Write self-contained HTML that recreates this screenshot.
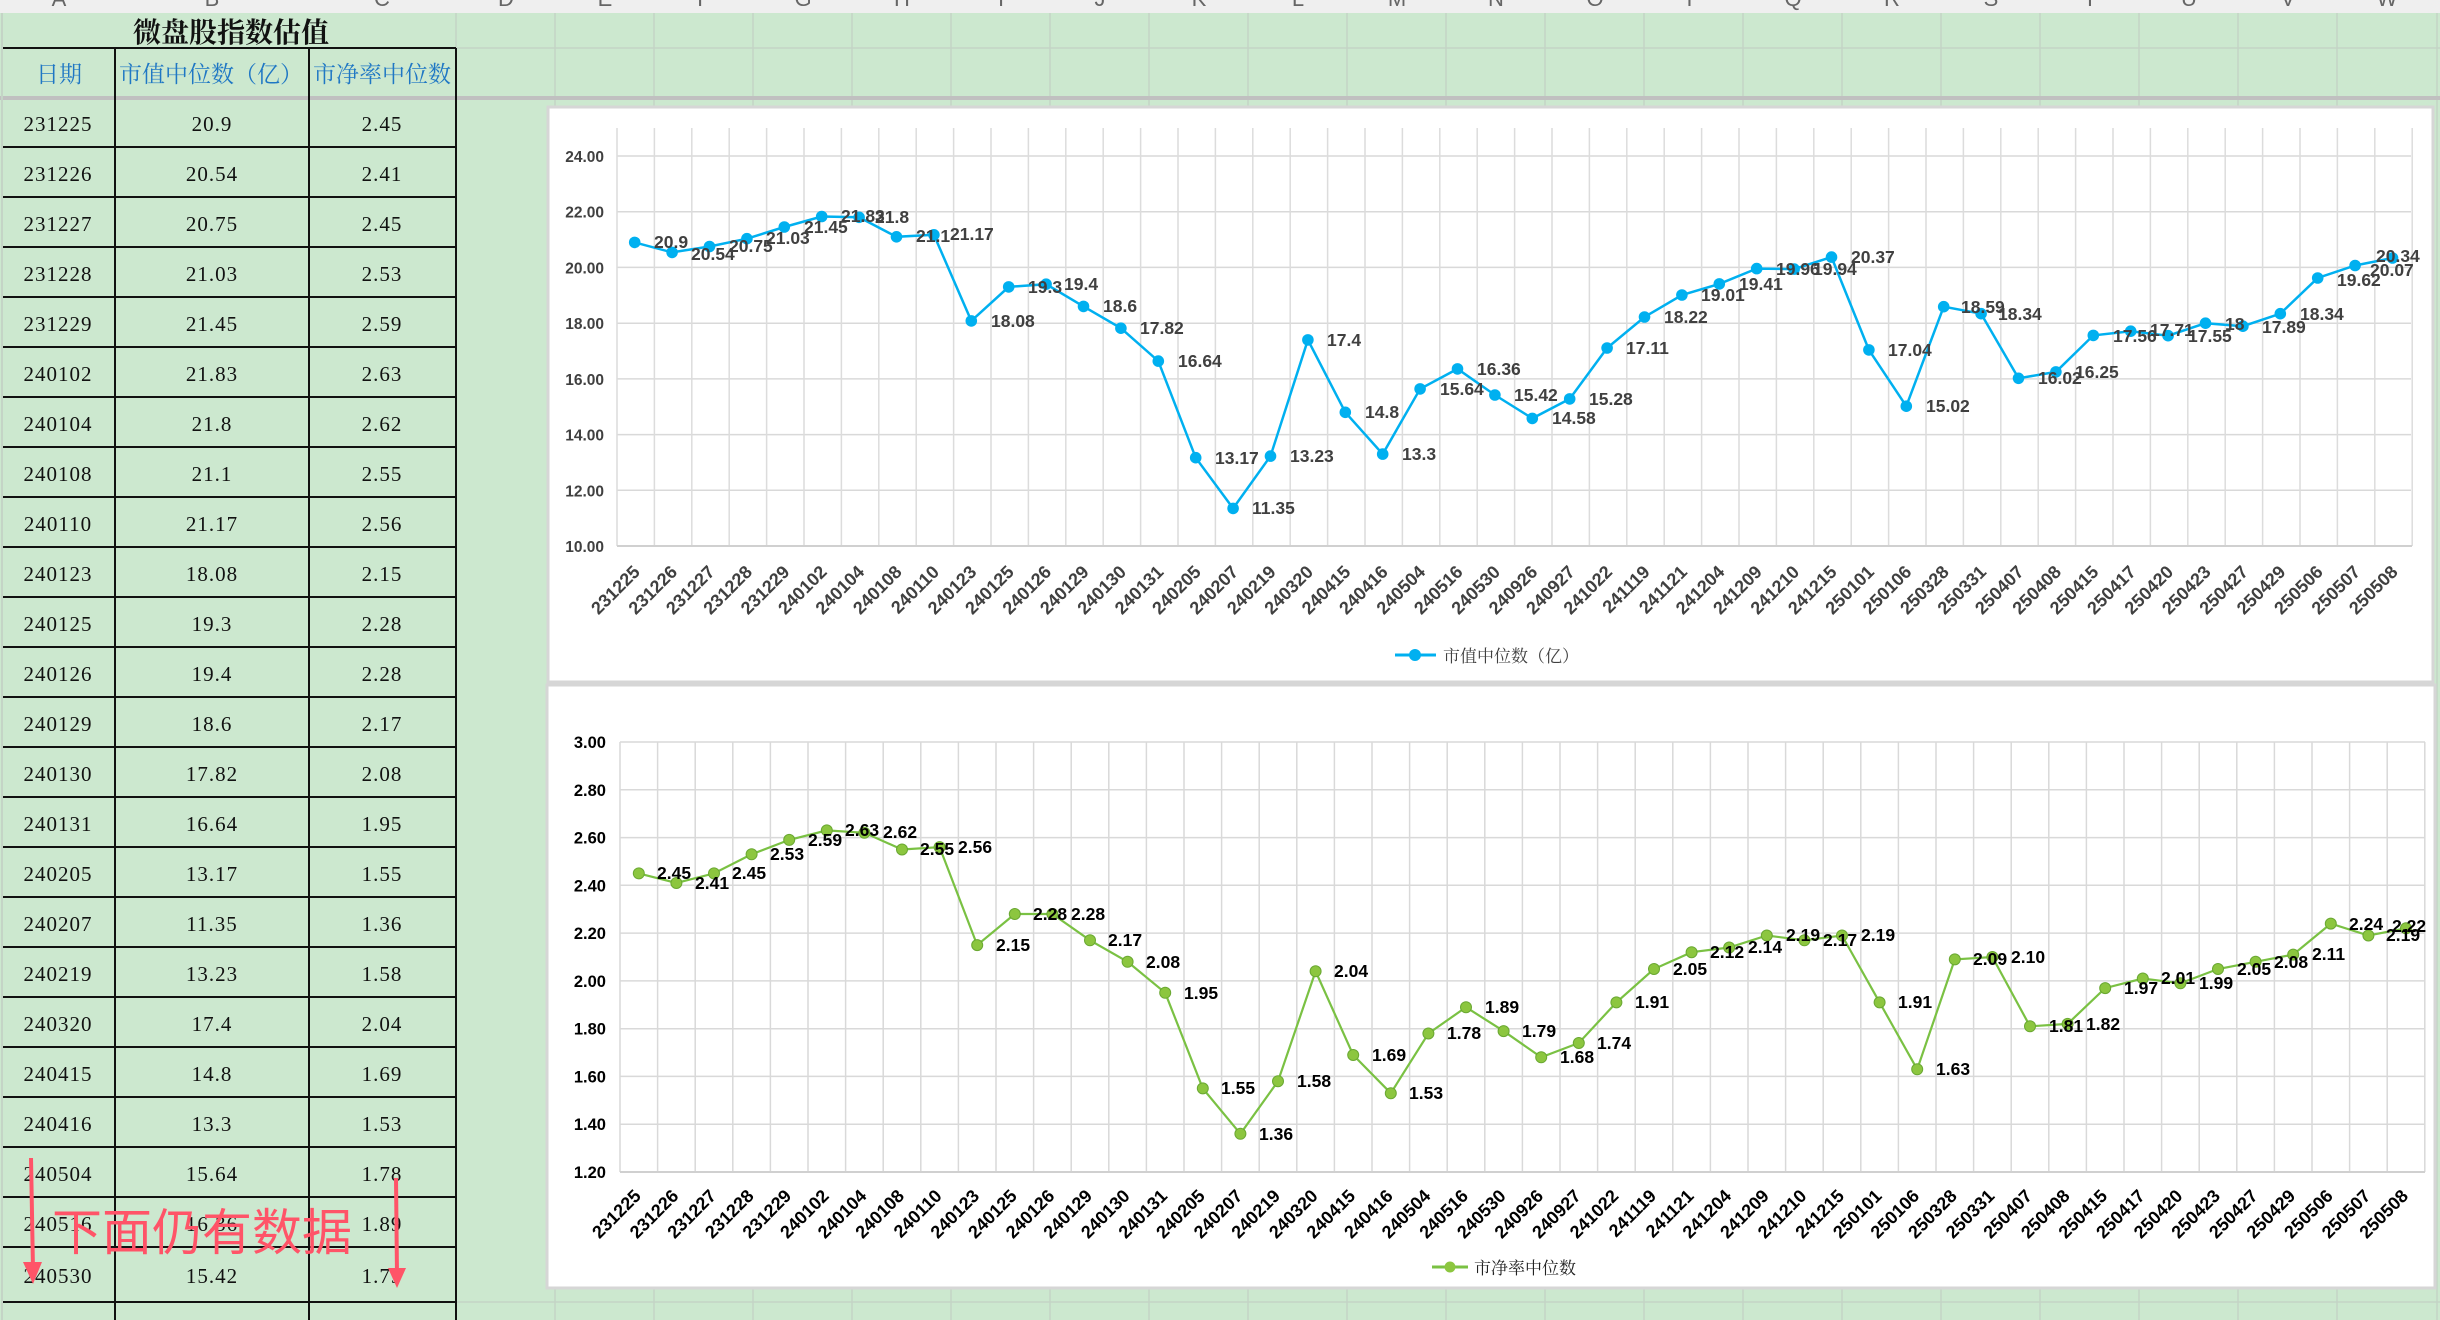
<!DOCTYPE html>
<html><head><meta charset="utf-8"><style>
html,body{margin:0;padding:0;width:2440px;height:1320px;overflow:hidden;background:#cce8cf}
svg{display:block}
.t{font-family:"Liberation Serif","Noto Serif CJK SC",serif;font-size:21px;fill:#111;text-anchor:middle;letter-spacing:1px}
.h{font-family:"Liberation Serif","Noto Serif CJK SC",serif;font-size:23px;fill:#1f77c4;text-anchor:middle}
.yl1{font-family:"Liberation Sans",sans-serif;font-weight:bold;font-size:15.5px;fill:#404040;text-anchor:end}
.yl2{font-family:"Liberation Sans",sans-serif;font-weight:bold;font-size:16.5px;fill:#000;text-anchor:end}
.d1{font-family:"Liberation Sans",sans-serif;font-weight:bold;font-size:17.5px;fill:#404040}
.d2{font-family:"Liberation Sans",sans-serif;font-weight:bold;font-size:17.5px;fill:#000}
.x1{font-family:"Liberation Sans",sans-serif;font-weight:bold;font-size:18px;fill:#404040;text-anchor:end}
.x2{font-family:"Liberation Sans",sans-serif;font-weight:bold;font-size:18px;fill:#000;text-anchor:end}
</style></head><body>
<svg width="2440" height="1320" viewBox="0 0 2440 1320" xmlns="http://www.w3.org/2000/svg">
<rect width="2440" height="1320" fill="#cce8cf"/>
<rect width="2440" height="13" fill="#efefef"/>
<g font-family="Liberation Sans,sans-serif" font-size="22" fill="#666" text-anchor="middle">
<text x="59" y="6">A</text><text x="212" y="6">B</text><text x="382" y="6">C</text>
<text x="506" y="6">D</text><text x="605" y="6">E</text><text x="704" y="6">F</text><text x="803" y="6">G</text><text x="902" y="6">H</text><text x="1001" y="6">I</text><text x="1100" y="6">J</text><text x="1199" y="6">K</text><text x="1298" y="6">L</text><text x="1397" y="6">M</text><text x="1496" y="6">N</text><text x="1595" y="6">O</text><text x="1694" y="6">P</text><text x="1793" y="6">Q</text><text x="1892" y="6">R</text><text x="1991" y="6">S</text><text x="2090" y="6">T</text><text x="2189" y="6">U</text><text x="2288" y="6">V</text><text x="2387" y="6">W</text>
</g>
<g stroke="#c4d4c6" stroke-width="1.5">
<line x1="456" y1="13" x2="456" y2="1320"/><line x1="555" y1="13" x2="555" y2="1320"/><line x1="654" y1="13" x2="654" y2="1320"/><line x1="753" y1="13" x2="753" y2="1320"/><line x1="852" y1="13" x2="852" y2="1320"/><line x1="951" y1="13" x2="951" y2="1320"/><line x1="1050" y1="13" x2="1050" y2="1320"/><line x1="1149" y1="13" x2="1149" y2="1320"/><line x1="1248" y1="13" x2="1248" y2="1320"/><line x1="1347" y1="13" x2="1347" y2="1320"/><line x1="1446" y1="13" x2="1446" y2="1320"/><line x1="1545" y1="13" x2="1545" y2="1320"/><line x1="1644" y1="13" x2="1644" y2="1320"/><line x1="1743" y1="13" x2="1743" y2="1320"/><line x1="1842" y1="13" x2="1842" y2="1320"/><line x1="1941" y1="13" x2="1941" y2="1320"/><line x1="2040" y1="13" x2="2040" y2="1320"/><line x1="2139" y1="13" x2="2139" y2="1320"/><line x1="2238" y1="13" x2="2238" y2="1320"/><line x1="2337" y1="13" x2="2337" y2="1320"/><line x1="2437" y1="13" x2="2437" y2="1320"/>
<line x1="456" y1="48" x2="2440" y2="48"/>
<line x1="456" y1="1302" x2="2440" y2="1302"/>
</g>
<line x1="0" y1="98" x2="2440" y2="98" stroke="#c0c0c0" stroke-width="4"/>
<text x="231" y="42" font-family="Liberation Serif,'Noto Serif CJK SC',serif" font-size="28" font-weight="bold" text-anchor="middle" fill="#111">微盘股指数估值</text>
<text class="h" x="59" y="82">日期</text>
<text class="h" x="211" y="82">市值中位数（亿）</text>
<text class="h" x="382" y="82">市净率中位数</text>
<g stroke="#111" stroke-width="2">
<line x1="2" y1="48" x2="456" y2="48"/>
<line x1="115" y1="48" x2="115" y2="1320"/><line x1="309" y1="48" x2="309" y2="1320"/><line x1="456" y1="48" x2="456" y2="1320"/>
<line x1="2" y1="147" x2="456" y2="147"/><line x1="2" y1="197" x2="456" y2="197"/><line x1="2" y1="247" x2="456" y2="247"/><line x1="2" y1="297" x2="456" y2="297"/><line x1="2" y1="347" x2="456" y2="347"/><line x1="2" y1="397" x2="456" y2="397"/><line x1="2" y1="447" x2="456" y2="447"/><line x1="2" y1="497" x2="456" y2="497"/><line x1="2" y1="547" x2="456" y2="547"/><line x1="2" y1="597" x2="456" y2="597"/><line x1="2" y1="647" x2="456" y2="647"/><line x1="2" y1="697" x2="456" y2="697"/><line x1="2" y1="747" x2="456" y2="747"/><line x1="2" y1="797" x2="456" y2="797"/><line x1="2" y1="847" x2="456" y2="847"/><line x1="2" y1="897" x2="456" y2="897"/><line x1="2" y1="947" x2="456" y2="947"/><line x1="2" y1="997" x2="456" y2="997"/><line x1="2" y1="1047" x2="456" y2="1047"/><line x1="2" y1="1097" x2="456" y2="1097"/><line x1="2" y1="1147" x2="456" y2="1147"/><line x1="2" y1="1197" x2="456" y2="1197"/><line x1="2" y1="1247" x2="456" y2="1247"/><line x1="2" y1="1302" x2="456" y2="1302"/>
</g>
<line x1="2" y1="13" x2="2" y2="1320" stroke="#c4d4c6" stroke-width="2"/>
<g class="t">
<text class="t" x="58" y="131">231225</text><text class="t" x="212" y="131">20.9</text><text class="t" x="382" y="131">2.45</text>
<text class="t" x="58" y="181">231226</text><text class="t" x="212" y="181">20.54</text><text class="t" x="382" y="181">2.41</text>
<text class="t" x="58" y="231">231227</text><text class="t" x="212" y="231">20.75</text><text class="t" x="382" y="231">2.45</text>
<text class="t" x="58" y="281">231228</text><text class="t" x="212" y="281">21.03</text><text class="t" x="382" y="281">2.53</text>
<text class="t" x="58" y="331">231229</text><text class="t" x="212" y="331">21.45</text><text class="t" x="382" y="331">2.59</text>
<text class="t" x="58" y="381">240102</text><text class="t" x="212" y="381">21.83</text><text class="t" x="382" y="381">2.63</text>
<text class="t" x="58" y="431">240104</text><text class="t" x="212" y="431">21.8</text><text class="t" x="382" y="431">2.62</text>
<text class="t" x="58" y="481">240108</text><text class="t" x="212" y="481">21.1</text><text class="t" x="382" y="481">2.55</text>
<text class="t" x="58" y="531">240110</text><text class="t" x="212" y="531">21.17</text><text class="t" x="382" y="531">2.56</text>
<text class="t" x="58" y="581">240123</text><text class="t" x="212" y="581">18.08</text><text class="t" x="382" y="581">2.15</text>
<text class="t" x="58" y="631">240125</text><text class="t" x="212" y="631">19.3</text><text class="t" x="382" y="631">2.28</text>
<text class="t" x="58" y="681">240126</text><text class="t" x="212" y="681">19.4</text><text class="t" x="382" y="681">2.28</text>
<text class="t" x="58" y="731">240129</text><text class="t" x="212" y="731">18.6</text><text class="t" x="382" y="731">2.17</text>
<text class="t" x="58" y="781">240130</text><text class="t" x="212" y="781">17.82</text><text class="t" x="382" y="781">2.08</text>
<text class="t" x="58" y="831">240131</text><text class="t" x="212" y="831">16.64</text><text class="t" x="382" y="831">1.95</text>
<text class="t" x="58" y="881">240205</text><text class="t" x="212" y="881">13.17</text><text class="t" x="382" y="881">1.55</text>
<text class="t" x="58" y="931">240207</text><text class="t" x="212" y="931">11.35</text><text class="t" x="382" y="931">1.36</text>
<text class="t" x="58" y="981">240219</text><text class="t" x="212" y="981">13.23</text><text class="t" x="382" y="981">1.58</text>
<text class="t" x="58" y="1031">240320</text><text class="t" x="212" y="1031">17.4</text><text class="t" x="382" y="1031">2.04</text>
<text class="t" x="58" y="1081">240415</text><text class="t" x="212" y="1081">14.8</text><text class="t" x="382" y="1081">1.69</text>
<text class="t" x="58" y="1131">240416</text><text class="t" x="212" y="1131">13.3</text><text class="t" x="382" y="1131">1.53</text>
<text class="t" x="58" y="1181">240504</text><text class="t" x="212" y="1181">15.64</text><text class="t" x="382" y="1181">1.78</text>
<text class="t" x="58" y="1231">240516</text><text class="t" x="212" y="1231">16.36</text><text class="t" x="382" y="1231">1.89</text>
<text class="t" x="58" y="1283">240530</text><text class="t" x="212" y="1283">15.42</text><text class="t" x="382" y="1283">1.79</text>
</g>
<text x="52" y="1250" font-family="'Noto Sans CJK SC','WenQuanYi Zen Hei',sans-serif" font-size="50" fill="#ff5468">下面仍有数据</text>
<g fill="#ff5468" stroke="#ff5468">
<line x1="31" y1="1158" x2="33" y2="1270" stroke-width="4"/><polygon points="23,1262 42,1262 33,1284" stroke="none"/>
<line x1="396" y1="1178" x2="397" y2="1275" stroke-width="4"/><polygon points="388,1268 406,1268 397,1288" stroke="none"/>
</g>

<rect x="548" y="107" width="1885" height="575" fill="#fff" stroke="#d6d6d6" stroke-width="3"/>
<g stroke="#d9d9d9" stroke-width="1.5">
<line x1="617" y1="156" x2="2411" y2="156"/><line x1="617" y1="211.7" x2="2411" y2="211.7"/><line x1="617" y1="267.4" x2="2411" y2="267.4"/><line x1="617" y1="323.2" x2="2411" y2="323.2"/><line x1="617" y1="378.9" x2="2411" y2="378.9"/><line x1="617" y1="434.6" x2="2411" y2="434.6"/><line x1="617" y1="490.3" x2="2411" y2="490.3"/>
</g>
<g stroke="#dcdcdc" stroke-width="1.5">
<line x1="617" y1="128" x2="617" y2="546"/><line x1="654.4" y1="128" x2="654.4" y2="546"/><line x1="691.8" y1="128" x2="691.8" y2="546"/><line x1="729.2" y1="128" x2="729.2" y2="546"/><line x1="766.6" y1="128" x2="766.6" y2="546"/><line x1="804" y1="128" x2="804" y2="546"/><line x1="841.4" y1="128" x2="841.4" y2="546"/><line x1="878.8" y1="128" x2="878.8" y2="546"/><line x1="916.2" y1="128" x2="916.2" y2="546"/><line x1="953.6" y1="128" x2="953.6" y2="546"/><line x1="991" y1="128" x2="991" y2="546"/><line x1="1028.4" y1="128" x2="1028.4" y2="546"/><line x1="1065.8" y1="128" x2="1065.8" y2="546"/><line x1="1103.2" y1="128" x2="1103.2" y2="546"/><line x1="1140.6" y1="128" x2="1140.6" y2="546"/><line x1="1178" y1="128" x2="1178" y2="546"/><line x1="1215.4" y1="128" x2="1215.4" y2="546"/><line x1="1252.8" y1="128" x2="1252.8" y2="546"/><line x1="1290.2" y1="128" x2="1290.2" y2="546"/><line x1="1327.6" y1="128" x2="1327.6" y2="546"/><line x1="1365" y1="128" x2="1365" y2="546"/><line x1="1402.4" y1="128" x2="1402.4" y2="546"/><line x1="1439.8" y1="128" x2="1439.8" y2="546"/><line x1="1477.2" y1="128" x2="1477.2" y2="546"/><line x1="1514.6" y1="128" x2="1514.6" y2="546"/><line x1="1552" y1="128" x2="1552" y2="546"/><line x1="1589.4" y1="128" x2="1589.4" y2="546"/><line x1="1626.8" y1="128" x2="1626.8" y2="546"/><line x1="1664.2" y1="128" x2="1664.2" y2="546"/><line x1="1701.6" y1="128" x2="1701.6" y2="546"/><line x1="1739" y1="128" x2="1739" y2="546"/><line x1="1776.4" y1="128" x2="1776.4" y2="546"/><line x1="1813.8" y1="128" x2="1813.8" y2="546"/><line x1="1851.2" y1="128" x2="1851.2" y2="546"/><line x1="1888.6" y1="128" x2="1888.6" y2="546"/><line x1="1926" y1="128" x2="1926" y2="546"/><line x1="1963.4" y1="128" x2="1963.4" y2="546"/><line x1="2000.8" y1="128" x2="2000.8" y2="546"/><line x1="2038.2" y1="128" x2="2038.2" y2="546"/><line x1="2075.6" y1="128" x2="2075.6" y2="546"/><line x1="2113" y1="128" x2="2113" y2="546"/><line x1="2150.4" y1="128" x2="2150.4" y2="546"/><line x1="2187.8" y1="128" x2="2187.8" y2="546"/><line x1="2225.2" y1="128" x2="2225.2" y2="546"/><line x1="2262.6" y1="128" x2="2262.6" y2="546"/><line x1="2300" y1="128" x2="2300" y2="546"/><line x1="2337.4" y1="128" x2="2337.4" y2="546"/><line x1="2374.8" y1="128" x2="2374.8" y2="546"/><line x1="2412.2" y1="128" x2="2412.2" y2="546"/>
</g>
<line x1="617" y1="546" x2="2412" y2="546" stroke="#d0d0d0" stroke-width="2"/>
<g>
<text class="yl1" x="604" y="162">24.00</text><text class="yl1" x="604" y="217.7">22.00</text><text class="yl1" x="604" y="273.4">20.00</text><text class="yl1" x="604" y="329.2">18.00</text><text class="yl1" x="604" y="384.9">16.00</text><text class="yl1" x="604" y="440.6">14.00</text><text class="yl1" x="604" y="496.3">12.00</text><text class="yl1" x="604" y="552">10.00</text>
</g>
<polyline fill="none" stroke="#00b0f0" stroke-width="2.5" points="634.7,242.4 672.1,252.4 709.5,246.5 746.9,238.7 784.3,227 821.7,216.5 859.1,217.3 896.5,236.8 933.9,234.8 971.3,320.9 1008.7,286.9 1046.1,284.2 1083.5,306.4 1120.9,328.2 1158.3,361.1 1195.7,457.7 1233.1,508.4 1270.5,456.1 1307.9,339.9 1345.3,412.3 1382.7,454.1 1420.1,388.9 1457.5,368.9 1494.9,395 1532.3,418.4 1569.7,398.9 1607.1,348 1644.5,317 1681.9,295 1719.3,283.9 1756.7,268.6 1794.1,269.1 1831.5,257.1 1868.9,349.9 1906.3,406.2 1943.7,306.7 1981.1,313.7 2018.5,378.3 2055.9,371.9 2093.3,335.4 2130.7,331.2 2168.1,335.7 2205.5,323.2 2242.9,326.2 2280.3,313.7 2317.7,278 2355.1,265.5 2392.5,258"/>
<g fill="#00b0f0">
<circle cx="634.7" cy="242.4" r="5.8"/><circle cx="672.1" cy="252.4" r="5.8"/><circle cx="709.5" cy="246.5" r="5.8"/><circle cx="746.9" cy="238.7" r="5.8"/><circle cx="784.3" cy="227" r="5.8"/><circle cx="821.7" cy="216.5" r="5.8"/><circle cx="859.1" cy="217.3" r="5.8"/><circle cx="896.5" cy="236.8" r="5.8"/><circle cx="933.9" cy="234.8" r="5.8"/><circle cx="971.3" cy="320.9" r="5.8"/><circle cx="1008.7" cy="286.9" r="5.8"/><circle cx="1046.1" cy="284.2" r="5.8"/><circle cx="1083.5" cy="306.4" r="5.8"/><circle cx="1120.9" cy="328.2" r="5.8"/><circle cx="1158.3" cy="361.1" r="5.8"/><circle cx="1195.7" cy="457.7" r="5.8"/><circle cx="1233.1" cy="508.4" r="5.8"/><circle cx="1270.5" cy="456.1" r="5.8"/><circle cx="1307.9" cy="339.9" r="5.8"/><circle cx="1345.3" cy="412.3" r="5.8"/><circle cx="1382.7" cy="454.1" r="5.8"/><circle cx="1420.1" cy="388.9" r="5.8"/><circle cx="1457.5" cy="368.9" r="5.8"/><circle cx="1494.9" cy="395" r="5.8"/><circle cx="1532.3" cy="418.4" r="5.8"/><circle cx="1569.7" cy="398.9" r="5.8"/><circle cx="1607.1" cy="348" r="5.8"/><circle cx="1644.5" cy="317" r="5.8"/><circle cx="1681.9" cy="295" r="5.8"/><circle cx="1719.3" cy="283.9" r="5.8"/><circle cx="1756.7" cy="268.6" r="5.8"/><circle cx="1794.1" cy="269.1" r="5.8"/><circle cx="1831.5" cy="257.1" r="5.8"/><circle cx="1868.9" cy="349.9" r="5.8"/><circle cx="1906.3" cy="406.2" r="5.8"/><circle cx="1943.7" cy="306.7" r="5.8"/><circle cx="1981.1" cy="313.7" r="5.8"/><circle cx="2018.5" cy="378.3" r="5.8"/><circle cx="2055.9" cy="371.9" r="5.8"/><circle cx="2093.3" cy="335.4" r="5.8"/><circle cx="2130.7" cy="331.2" r="5.8"/><circle cx="2168.1" cy="335.7" r="5.8"/><circle cx="2205.5" cy="323.2" r="5.8"/><circle cx="2242.9" cy="326.2" r="5.8"/><circle cx="2280.3" cy="313.7" r="5.8"/><circle cx="2317.7" cy="278" r="5.8"/><circle cx="2355.1" cy="265.5" r="5.8"/><circle cx="2392.5" cy="258" r="5.8"/>
</g>
<g class="d1">
<text class="d1" x="654" y="248">20.9</text><text class="d1" x="691" y="260">20.54</text><text class="d1" x="729" y="252">20.75</text><text class="d1" x="766" y="244">21.03</text><text class="d1" x="804" y="233">21.45</text><text class="d1" x="841" y="222">21.83</text><text class="d1" x="875" y="223">21.8</text><text class="d1" x="916" y="242">21.1</text><text class="d1" x="950" y="240">21.17</text><text class="d1" x="991" y="327">18.08</text><text class="d1" x="1028" y="293">19.3</text><text class="d1" x="1064" y="290">19.4</text><text class="d1" x="1103" y="312">18.6</text><text class="d1" x="1140" y="334">17.82</text><text class="d1" x="1178" y="367">16.64</text><text class="d1" x="1215" y="464">13.17</text><text class="d1" x="1252" y="514">11.35</text><text class="d1" x="1290" y="462">13.23</text><text class="d1" x="1327" y="346">17.4</text><text class="d1" x="1365" y="418">14.8</text><text class="d1" x="1402" y="460">13.3</text><text class="d1" x="1440" y="395">15.64</text><text class="d1" x="1477" y="375">16.36</text><text class="d1" x="1514" y="401">15.42</text><text class="d1" x="1552" y="424">14.58</text><text class="d1" x="1589" y="405">15.28</text><text class="d1" x="1626" y="354">17.11</text><text class="d1" x="1664" y="323">18.22</text><text class="d1" x="1701" y="301">19.01</text><text class="d1" x="1739" y="290">19.41</text><text class="d1" x="1776" y="275">19.96</text><text class="d1" x="1813" y="275">19.94</text><text class="d1" x="1851" y="263">20.37</text><text class="d1" x="1888" y="356">17.04</text><text class="d1" x="1926" y="412">15.02</text><text class="d1" x="1961" y="313">18.59</text><text class="d1" x="1998" y="320">18.34</text><text class="d1" x="2038" y="384">16.02</text><text class="d1" x="2075" y="378">16.25</text><text class="d1" x="2113" y="342">17.56</text><text class="d1" x="2150" y="336">17.71</text><text class="d1" x="2188" y="342">17.55</text><text class="d1" x="2225" y="330">18</text><text class="d1" x="2262" y="333">17.89</text><text class="d1" x="2300" y="320">18.34</text><text class="d1" x="2337" y="286">19.62</text><text class="d1" x="2370" y="276">20.07</text><text class="d1" x="2376" y="262">20.34</text>
</g>
<g>
<text class="x1" transform="translate(641,573) rotate(-45)">231225</text><text class="x1" transform="translate(678.4,573) rotate(-45)">231226</text><text class="x1" transform="translate(715.8,573) rotate(-45)">231227</text><text class="x1" transform="translate(753.2,573) rotate(-45)">231228</text><text class="x1" transform="translate(790.6,573) rotate(-45)">231229</text><text class="x1" transform="translate(828,573) rotate(-45)">240102</text><text class="x1" transform="translate(865.4,573) rotate(-45)">240104</text><text class="x1" transform="translate(902.8,573) rotate(-45)">240108</text><text class="x1" transform="translate(940.2,573) rotate(-45)">240110</text><text class="x1" transform="translate(977.6,573) rotate(-45)">240123</text><text class="x1" transform="translate(1015,573) rotate(-45)">240125</text><text class="x1" transform="translate(1052.4,573) rotate(-45)">240126</text><text class="x1" transform="translate(1089.8,573) rotate(-45)">240129</text><text class="x1" transform="translate(1127.2,573) rotate(-45)">240130</text><text class="x1" transform="translate(1164.6,573) rotate(-45)">240131</text><text class="x1" transform="translate(1202,573) rotate(-45)">240205</text><text class="x1" transform="translate(1239.4,573) rotate(-45)">240207</text><text class="x1" transform="translate(1276.8,573) rotate(-45)">240219</text><text class="x1" transform="translate(1314.2,573) rotate(-45)">240320</text><text class="x1" transform="translate(1351.6,573) rotate(-45)">240415</text><text class="x1" transform="translate(1389,573) rotate(-45)">240416</text><text class="x1" transform="translate(1426.4,573) rotate(-45)">240504</text><text class="x1" transform="translate(1463.8,573) rotate(-45)">240516</text><text class="x1" transform="translate(1501.2,573) rotate(-45)">240530</text><text class="x1" transform="translate(1538.6,573) rotate(-45)">240926</text><text class="x1" transform="translate(1576,573) rotate(-45)">240927</text><text class="x1" transform="translate(1613.4,573) rotate(-45)">241022</text><text class="x1" transform="translate(1650.8,573) rotate(-45)">241119</text><text class="x1" transform="translate(1688.2,573) rotate(-45)">241121</text><text class="x1" transform="translate(1725.6,573) rotate(-45)">241204</text><text class="x1" transform="translate(1763,573) rotate(-45)">241209</text><text class="x1" transform="translate(1800.4,573) rotate(-45)">241210</text><text class="x1" transform="translate(1837.8,573) rotate(-45)">241215</text><text class="x1" transform="translate(1875.2,573) rotate(-45)">250101</text><text class="x1" transform="translate(1912.6,573) rotate(-45)">250106</text><text class="x1" transform="translate(1950,573) rotate(-45)">250328</text><text class="x1" transform="translate(1987.4,573) rotate(-45)">250331</text><text class="x1" transform="translate(2024.8,573) rotate(-45)">250407</text><text class="x1" transform="translate(2062.2,573) rotate(-45)">250408</text><text class="x1" transform="translate(2099.6,573) rotate(-45)">250415</text><text class="x1" transform="translate(2137,573) rotate(-45)">250417</text><text class="x1" transform="translate(2174.4,573) rotate(-45)">250420</text><text class="x1" transform="translate(2211.8,573) rotate(-45)">250423</text><text class="x1" transform="translate(2249.2,573) rotate(-45)">250427</text><text class="x1" transform="translate(2286.6,573) rotate(-45)">250429</text><text class="x1" transform="translate(2324,573) rotate(-45)">250506</text><text class="x1" transform="translate(2361.4,573) rotate(-45)">250507</text><text class="x1" transform="translate(2398.8,573) rotate(-45)">250508</text>
</g>
<line x1="1395" y1="655" x2="1436" y2="655" stroke="#00b0f0" stroke-width="3"/><circle cx="1415" cy="655" r="6" fill="#00b0f0"/>
<text x="1443" y="662" font-family="'Liberation Serif','Noto Serif CJK SC',serif" font-size="17" fill="#404040">市值中位数（亿）</text>

<rect x="547" y="685" width="1888" height="603" fill="#fff" stroke="#d6d6d6" stroke-width="3"/>
<g stroke="#d9d9d9" stroke-width="1.5">
<line x1="620" y1="742" x2="2425" y2="742"/><line x1="620" y1="789.8" x2="2425" y2="789.8"/><line x1="620" y1="837.6" x2="2425" y2="837.6"/><line x1="620" y1="885.3" x2="2425" y2="885.3"/><line x1="620" y1="933.1" x2="2425" y2="933.1"/><line x1="620" y1="980.9" x2="2425" y2="980.9"/><line x1="620" y1="1028.7" x2="2425" y2="1028.7"/><line x1="620" y1="1076.4" x2="2425" y2="1076.4"/><line x1="620" y1="1124.2" x2="2425" y2="1124.2"/>
<line x1="620" y1="742" x2="620" y2="1172"/><line x1="657.6" y1="742" x2="657.6" y2="1172"/><line x1="695.2" y1="742" x2="695.2" y2="1172"/><line x1="732.8" y1="742" x2="732.8" y2="1172"/><line x1="770.4" y1="742" x2="770.4" y2="1172"/><line x1="808" y1="742" x2="808" y2="1172"/><line x1="845.6" y1="742" x2="845.6" y2="1172"/><line x1="883.2" y1="742" x2="883.2" y2="1172"/><line x1="920.8" y1="742" x2="920.8" y2="1172"/><line x1="958.4" y1="742" x2="958.4" y2="1172"/><line x1="996" y1="742" x2="996" y2="1172"/><line x1="1033.6" y1="742" x2="1033.6" y2="1172"/><line x1="1071.2" y1="742" x2="1071.2" y2="1172"/><line x1="1108.8" y1="742" x2="1108.8" y2="1172"/><line x1="1146.4" y1="742" x2="1146.4" y2="1172"/><line x1="1184" y1="742" x2="1184" y2="1172"/><line x1="1221.6" y1="742" x2="1221.6" y2="1172"/><line x1="1259.2" y1="742" x2="1259.2" y2="1172"/><line x1="1296.8" y1="742" x2="1296.8" y2="1172"/><line x1="1334.4" y1="742" x2="1334.4" y2="1172"/><line x1="1372" y1="742" x2="1372" y2="1172"/><line x1="1409.6" y1="742" x2="1409.6" y2="1172"/><line x1="1447.2" y1="742" x2="1447.2" y2="1172"/><line x1="1484.8" y1="742" x2="1484.8" y2="1172"/><line x1="1522.4" y1="742" x2="1522.4" y2="1172"/><line x1="1560" y1="742" x2="1560" y2="1172"/><line x1="1597.6" y1="742" x2="1597.6" y2="1172"/><line x1="1635.2" y1="742" x2="1635.2" y2="1172"/><line x1="1672.8" y1="742" x2="1672.8" y2="1172"/><line x1="1710.4" y1="742" x2="1710.4" y2="1172"/><line x1="1748" y1="742" x2="1748" y2="1172"/><line x1="1785.6" y1="742" x2="1785.6" y2="1172"/><line x1="1823.2" y1="742" x2="1823.2" y2="1172"/><line x1="1860.8" y1="742" x2="1860.8" y2="1172"/><line x1="1898.4" y1="742" x2="1898.4" y2="1172"/><line x1="1936" y1="742" x2="1936" y2="1172"/><line x1="1973.6" y1="742" x2="1973.6" y2="1172"/><line x1="2011.2" y1="742" x2="2011.2" y2="1172"/><line x1="2048.8" y1="742" x2="2048.8" y2="1172"/><line x1="2086.4" y1="742" x2="2086.4" y2="1172"/><line x1="2124" y1="742" x2="2124" y2="1172"/><line x1="2161.6" y1="742" x2="2161.6" y2="1172"/><line x1="2199.2" y1="742" x2="2199.2" y2="1172"/><line x1="2236.8" y1="742" x2="2236.8" y2="1172"/><line x1="2274.4" y1="742" x2="2274.4" y2="1172"/><line x1="2312" y1="742" x2="2312" y2="1172"/><line x1="2349.6" y1="742" x2="2349.6" y2="1172"/><line x1="2387.2" y1="742" x2="2387.2" y2="1172"/><line x1="2424.8" y1="742" x2="2424.8" y2="1172"/>
</g>
<line x1="620" y1="1172" x2="2425" y2="1172" stroke="#d0d0d0" stroke-width="2"/>
<g>
<text class="yl2" x="606" y="748">3.00</text><text class="yl2" x="606" y="795.8">2.80</text><text class="yl2" x="606" y="843.6">2.60</text><text class="yl2" x="606" y="891.3">2.40</text><text class="yl2" x="606" y="939.1">2.20</text><text class="yl2" x="606" y="986.9">2.00</text><text class="yl2" x="606" y="1034.7">1.80</text><text class="yl2" x="606" y="1082.4">1.60</text><text class="yl2" x="606" y="1130.2">1.40</text><text class="yl2" x="606" y="1178">1.20</text>
</g>
<polyline fill="none" stroke="#7ac143" stroke-width="2.2" points="638.8,873.4 676.4,883 714,873.4 751.6,854.3 789.2,839.9 826.8,830.4 864.4,832.8 902,849.5 939.6,847.1 977.2,945.1 1014.8,914 1052.4,914 1090,940.3 1127.6,961.8 1165.2,992.8 1202.8,1088.4 1240.4,1133.8 1278,1081.2 1315.6,971.3 1353.2,1055 1390.8,1093.2 1428.4,1033.5 1466,1007.2 1503.6,1031.1 1541.2,1057.3 1578.8,1043 1616.4,1002.4 1654,969 1691.6,952.2 1729.2,947.5 1766.8,935.5 1804.4,940.3 1842,935.5 1879.6,1002.4 1917.2,1069.3 1954.8,959.4 1992.4,957 2030,1026.3 2067.6,1023.9 2105.2,988.1 2142.8,978.5 2180.4,983.3 2218,969 2255.6,961.8 2293.2,954.6 2330.8,923.6 2368.4,935.5 2406,928.3"/>
<g fill="#8cc63f" stroke="#6aa832" stroke-width="1">
<circle cx="638.8" cy="873.4" r="5.5"/><circle cx="676.4" cy="883" r="5.5"/><circle cx="714" cy="873.4" r="5.5"/><circle cx="751.6" cy="854.3" r="5.5"/><circle cx="789.2" cy="839.9" r="5.5"/><circle cx="826.8" cy="830.4" r="5.5"/><circle cx="864.4" cy="832.8" r="5.5"/><circle cx="902" cy="849.5" r="5.5"/><circle cx="939.6" cy="847.1" r="5.5"/><circle cx="977.2" cy="945.1" r="5.5"/><circle cx="1014.8" cy="914" r="5.5"/><circle cx="1052.4" cy="914" r="5.5"/><circle cx="1090" cy="940.3" r="5.5"/><circle cx="1127.6" cy="961.8" r="5.5"/><circle cx="1165.2" cy="992.8" r="5.5"/><circle cx="1202.8" cy="1088.4" r="5.5"/><circle cx="1240.4" cy="1133.8" r="5.5"/><circle cx="1278" cy="1081.2" r="5.5"/><circle cx="1315.6" cy="971.3" r="5.5"/><circle cx="1353.2" cy="1055" r="5.5"/><circle cx="1390.8" cy="1093.2" r="5.5"/><circle cx="1428.4" cy="1033.5" r="5.5"/><circle cx="1466" cy="1007.2" r="5.5"/><circle cx="1503.6" cy="1031.1" r="5.5"/><circle cx="1541.2" cy="1057.3" r="5.5"/><circle cx="1578.8" cy="1043" r="5.5"/><circle cx="1616.4" cy="1002.4" r="5.5"/><circle cx="1654" cy="969" r="5.5"/><circle cx="1691.6" cy="952.2" r="5.5"/><circle cx="1729.2" cy="947.5" r="5.5"/><circle cx="1766.8" cy="935.5" r="5.5"/><circle cx="1804.4" cy="940.3" r="5.5"/><circle cx="1842" cy="935.5" r="5.5"/><circle cx="1879.6" cy="1002.4" r="5.5"/><circle cx="1917.2" cy="1069.3" r="5.5"/><circle cx="1954.8" cy="959.4" r="5.5"/><circle cx="1992.4" cy="957" r="5.5"/><circle cx="2030" cy="1026.3" r="5.5"/><circle cx="2067.6" cy="1023.9" r="5.5"/><circle cx="2105.2" cy="988.1" r="5.5"/><circle cx="2142.8" cy="978.5" r="5.5"/><circle cx="2180.4" cy="983.3" r="5.5"/><circle cx="2218" cy="969" r="5.5"/><circle cx="2255.6" cy="961.8" r="5.5"/><circle cx="2293.2" cy="954.6" r="5.5"/><circle cx="2330.8" cy="923.6" r="5.5"/><circle cx="2368.4" cy="935.5" r="5.5"/><circle cx="2406" cy="928.3" r="5.5"/>
</g>
<g class="d2">
<text class="d2" x="657" y="879">2.45</text><text class="d2" x="695" y="889">2.41</text><text class="d2" x="732" y="879">2.45</text><text class="d2" x="770" y="860">2.53</text><text class="d2" x="808" y="846">2.59</text><text class="d2" x="845" y="836">2.63</text><text class="d2" x="883" y="838">2.62</text><text class="d2" x="920" y="855">2.55</text><text class="d2" x="958" y="853">2.56</text><text class="d2" x="996" y="951">2.15</text><text class="d2" x="1033" y="920">2.28</text><text class="d2" x="1071" y="920">2.28</text><text class="d2" x="1108" y="946">2.17</text><text class="d2" x="1146" y="968">2.08</text><text class="d2" x="1184" y="999">1.95</text><text class="d2" x="1221" y="1094">1.55</text><text class="d2" x="1259" y="1140">1.36</text><text class="d2" x="1297" y="1087">1.58</text><text class="d2" x="1334" y="977">2.04</text><text class="d2" x="1372" y="1061">1.69</text><text class="d2" x="1409" y="1099">1.53</text><text class="d2" x="1447" y="1039">1.78</text><text class="d2" x="1485" y="1013">1.89</text><text class="d2" x="1522" y="1037">1.79</text><text class="d2" x="1560" y="1063">1.68</text><text class="d2" x="1597" y="1049">1.74</text><text class="d2" x="1635" y="1008">1.91</text><text class="d2" x="1673" y="975">2.05</text><text class="d2" x="1710" y="958">2.12</text><text class="d2" x="1748" y="953">2.14</text><text class="d2" x="1786" y="941">2.19</text><text class="d2" x="1823" y="946">2.17</text><text class="d2" x="1861" y="941">2.19</text><text class="d2" x="1898" y="1008">1.91</text><text class="d2" x="1936" y="1075">1.63</text><text class="d2" x="1973" y="965">2.09</text><text class="d2" x="2011" y="963">2.10</text><text class="d2" x="2049" y="1032">1.81</text><text class="d2" x="2086" y="1030">1.82</text><text class="d2" x="2124" y="994">1.97</text><text class="d2" x="2161" y="984">2.01</text><text class="d2" x="2199" y="989">1.99</text><text class="d2" x="2237" y="975">2.05</text><text class="d2" x="2274" y="968">2.08</text><text class="d2" x="2312" y="960">2.11</text><text class="d2" x="2349" y="930">2.24</text><text class="d2" x="2386" y="941">2.19</text><text class="d2" x="2392" y="932">2.22</text>
</g>
<g>
<text class="x2" transform="translate(642,1197) rotate(-45)">231225</text><text class="x2" transform="translate(679.6,1197) rotate(-45)">231226</text><text class="x2" transform="translate(717.2,1197) rotate(-45)">231227</text><text class="x2" transform="translate(754.8,1197) rotate(-45)">231228</text><text class="x2" transform="translate(792.4,1197) rotate(-45)">231229</text><text class="x2" transform="translate(830,1197) rotate(-45)">240102</text><text class="x2" transform="translate(867.6,1197) rotate(-45)">240104</text><text class="x2" transform="translate(905.2,1197) rotate(-45)">240108</text><text class="x2" transform="translate(942.8,1197) rotate(-45)">240110</text><text class="x2" transform="translate(980.4,1197) rotate(-45)">240123</text><text class="x2" transform="translate(1018,1197) rotate(-45)">240125</text><text class="x2" transform="translate(1055.6,1197) rotate(-45)">240126</text><text class="x2" transform="translate(1093.2,1197) rotate(-45)">240129</text><text class="x2" transform="translate(1130.8,1197) rotate(-45)">240130</text><text class="x2" transform="translate(1168.4,1197) rotate(-45)">240131</text><text class="x2" transform="translate(1206,1197) rotate(-45)">240205</text><text class="x2" transform="translate(1243.6,1197) rotate(-45)">240207</text><text class="x2" transform="translate(1281.2,1197) rotate(-45)">240219</text><text class="x2" transform="translate(1318.8,1197) rotate(-45)">240320</text><text class="x2" transform="translate(1356.4,1197) rotate(-45)">240415</text><text class="x2" transform="translate(1394,1197) rotate(-45)">240416</text><text class="x2" transform="translate(1431.6,1197) rotate(-45)">240504</text><text class="x2" transform="translate(1469.2,1197) rotate(-45)">240516</text><text class="x2" transform="translate(1506.8,1197) rotate(-45)">240530</text><text class="x2" transform="translate(1544.4,1197) rotate(-45)">240926</text><text class="x2" transform="translate(1582,1197) rotate(-45)">240927</text><text class="x2" transform="translate(1619.6,1197) rotate(-45)">241022</text><text class="x2" transform="translate(1657.2,1197) rotate(-45)">241119</text><text class="x2" transform="translate(1694.8,1197) rotate(-45)">241121</text><text class="x2" transform="translate(1732.4,1197) rotate(-45)">241204</text><text class="x2" transform="translate(1770,1197) rotate(-45)">241209</text><text class="x2" transform="translate(1807.6,1197) rotate(-45)">241210</text><text class="x2" transform="translate(1845.2,1197) rotate(-45)">241215</text><text class="x2" transform="translate(1882.8,1197) rotate(-45)">250101</text><text class="x2" transform="translate(1920.4,1197) rotate(-45)">250106</text><text class="x2" transform="translate(1958,1197) rotate(-45)">250328</text><text class="x2" transform="translate(1995.6,1197) rotate(-45)">250331</text><text class="x2" transform="translate(2033.2,1197) rotate(-45)">250407</text><text class="x2" transform="translate(2070.8,1197) rotate(-45)">250408</text><text class="x2" transform="translate(2108.4,1197) rotate(-45)">250415</text><text class="x2" transform="translate(2146,1197) rotate(-45)">250417</text><text class="x2" transform="translate(2183.6,1197) rotate(-45)">250420</text><text class="x2" transform="translate(2221.2,1197) rotate(-45)">250423</text><text class="x2" transform="translate(2258.8,1197) rotate(-45)">250427</text><text class="x2" transform="translate(2296.4,1197) rotate(-45)">250429</text><text class="x2" transform="translate(2334,1197) rotate(-45)">250506</text><text class="x2" transform="translate(2371.6,1197) rotate(-45)">250507</text><text class="x2" transform="translate(2409.2,1197) rotate(-45)">250508</text>
</g>
<line x1="1432" y1="1267" x2="1468" y2="1267" stroke="#7ac143" stroke-width="3"/><circle cx="1450" cy="1267" r="5.5" fill="#8cc63f"/>
<text x="1474" y="1274" font-family="'Liberation Serif','Noto Serif CJK SC',serif" font-size="17" fill="#222">市净率中位数</text>
</svg>
</body></html>
